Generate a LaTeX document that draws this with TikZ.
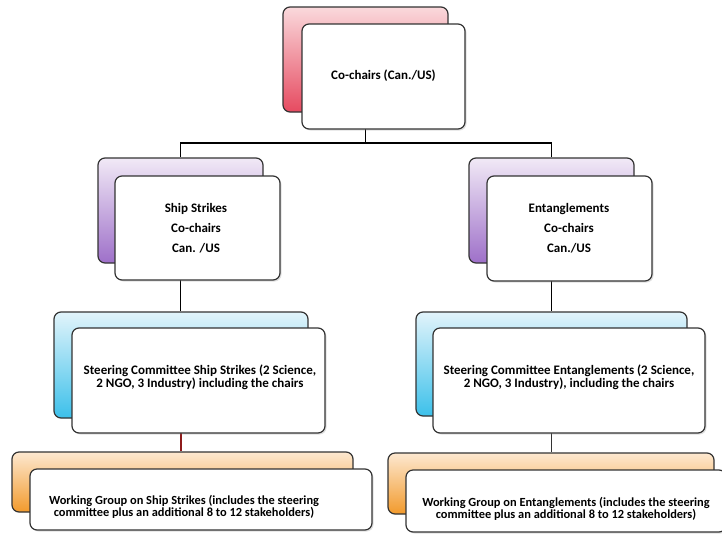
\documentclass[tikz,border=0pt]{standalone}
\usepackage{fontspec}
\setmainfont{Carlito}
\usetikzlibrary{shadows,backgrounds}
\definecolor{redA}{HTML}{FAD9DC}
\definecolor{redB}{HTML}{E64A60}
\definecolor{purA}{HTML}{F1E9F6}
\definecolor{purB}{HTML}{9E70C9}
\definecolor{bluA}{HTML}{E2F4FB}
\definecolor{bluB}{HTML}{3CC0EA}
\definecolor{oraA}{HTML}{FDE8D0}
\definecolor{oraB}{HTML}{F29A2C}
\definecolor{edgeC}{HTML}{333333}
\definecolor{linkR}{HTML}{8E1B1B}
\tikzset{
  backbox/.style={draw=edgeC, line width=1.2pt, rounded corners=7pt, inner sep=0pt},
  frontbox/.style={draw=edgeC, line width=1.2pt, rounded corners=7pt, inner sep=0pt,
    drop shadow={opacity=0.25, shadow xshift=1.5pt, shadow yshift=-1.5pt}},
  lbl/.style={align=center, inner sep=0pt, font=\bfseries\fontsize{13}{13}\selectfont},
  lblwg/.style={align=center, inner sep=0pt, font=\bfseries\fontsize{12.4}{12.5}\selectfont},
  lblwide/.style={align=center, inner sep=0pt, font=\bfseries\fontsize{13}{20}\selectfont},
  link/.style={line width=1.6pt, draw=black}
}
\begin{document}
\begin{tikzpicture}[x=1pt,y=-1pt]
\useasboundingbox (0,0) rectangle (722,536);
% top
\node[backbox, top color=redA, bottom color=redB, minimum width=165pt, minimum height=105pt] (topb) at (365.5,59.5) {};
\node[frontbox, fill=white, minimum width=163pt, minimum height=105pt] (topf) at (383.5,76.5) {};
\node[lbl] (topt) at (383.5,76) {Co-chairs (Can./US)};
% middle level
\node[backbox, top color=purA, bottom color=purB, minimum width=165pt, minimum height=105pt] (mlb) at (180.5,210.5) {};
\node[frontbox, fill=white, minimum width=165pt, minimum height=104pt] (mlf) at (197.5,228) {};
\node[lblwide] (mlt) at (196,228) {Ship Strikes\\Co-chairs\\Can. /US};
\node[backbox, top color=purA, bottom color=purB, minimum width=165pt, minimum height=105pt] (mrb) at (551.5,210.5) {};
\node[frontbox, fill=white, minimum width=165pt, minimum height=105pt] (mrf) at (569.5,228.5) {};
\node[lblwide] (mrt) at (569,228) {Entanglements\\Co-chairs\\Can./US};
% steering committees
\node[backbox, top color=bluA, bottom color=bluB, minimum width=254pt, minimum height=106pt] (blb) at (181,365) {};
\node[frontbox, fill=white, minimum width=253pt, minimum height=105pt] (blf) at (198.5,380.5) {};
\node[lbl] (blt) at (200,377) {Steering Committee Ship Strikes (2 Science,\\2 NGO, 3 Industry) including the chairs};
\node[backbox, top color=bluA, bottom color=bluB, minimum width=271pt, minimum height=104pt] (brb) at (551.5,364) {};
\node[frontbox, fill=white, minimum width=272pt, minimum height=105pt] (brf) at (569,380.5) {};
\node[lbl] (brt) at (569,377) {Steering Committee Entanglements (2 Science,\\2 NGO, 3 Industry), including the chairs};
% working groups
\node[backbox, top color=oraA, bottom color=oraB, minimum width=341pt, minimum height=60pt] (olb) at (182.5,482) {};
\node[frontbox, fill=white, minimum width=342pt, minimum height=61pt] (olf) at (201,499.5) {};
\node[lblwg] (olt) at (184,507) {Working Group on Ship Strikes (includes the steering\\committee plus an additional 8 to 12 stakeholders)};
\node[backbox, top color=oraA, bottom color=oraB, minimum width=326pt, minimum height=61pt] (orb) at (551,483.5) {};
\node[frontbox, fill=white, minimum width=320pt, minimum height=62pt] (orf) at (566,501) {};
\node[lblwg] (ort) at (566,509) {Working Group on Entanglements (includes the steering\\committee plus an additional 8 to 12 stakeholders)};
% connectors
\coordinate (j) at (365.5,143);
\begin{pgfonlayer}{background}
\draw[link] (topb.south) -- (j);
\draw[link] (j) -| (mlb.north);
\draw[link] (j) -| (mrb.north);
\draw[link] (mlb.south) -- (mlb.south |- blb.north);
\draw[link] (mrb.south) -- (mrb.south |- brb.north);
\draw[link, draw=linkR] (blb.south) -- (blb.south |- olb.north);
\draw[link, draw=edgeC] (brb.south) -- (brb.south |- orb.north);
\end{pgfonlayer}
\end{tikzpicture}
\end{document}
